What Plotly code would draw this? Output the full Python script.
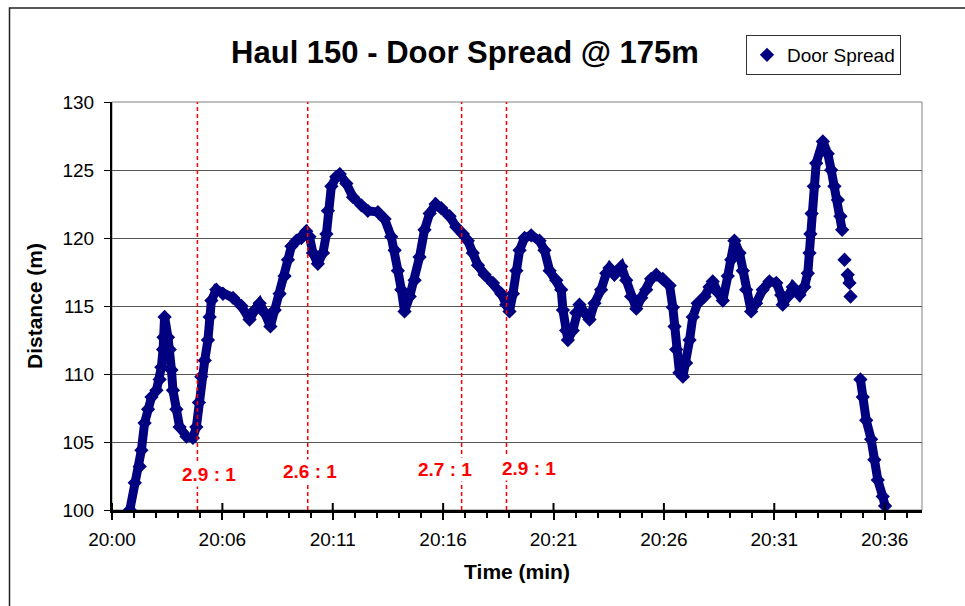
import plotly.graph_objects as go

# Door spread readings: minutes after 20:00 and distance in metres
minutes = [
    0.83, 1.06, 1.29, 1.37, 1.52, 1.68, 1.84, 2.07, 2.22, 2.30, 2.38, 2.40, 2.45, 2.61,
    2.69, 2.77, 2.84, 3.00, 3.15, 3.47, 3.77, 3.93, 4.05, 4.16, 4.32, 4.47, 4.55, 4.63,
    4.86, 5.17, 5.64, 6.03, 6.41, 6.65, 6.88, 7.11, 7.38, 7.58, 7.81, 8.04, 8.20, 8.36,
    8.59, 8.82, 9.05, 9.20, 9.36, 9.59, 9.83, 9.99, 10.06, 10.22, 10.45, 10.61, 10.92,
    11.23, 11.62, 11.92, 12.39, 12.70, 13.01, 13.17, 13.32, 13.48, 13.63, 13.87, 14.10,
    14.33, 14.56, 14.80, 15.08, 15.34, 15.73, 16.04, 16.35, 16.58, 16.81, 17.05, 17.36,
    17.75, 18.14, 18.37, 18.52, 18.68, 18.84, 18.99, 19.22, 19.53, 19.92, 20.15, 20.39,
    20.70, 20.93, 21.01, 21.16, 21.24, 21.47, 21.63, 21.78, 22.02, 22.25, 22.48, 22.79,
    23.03, 23.18, 23.41, 23.73, 23.96, 24.19, 24.43, 24.66, 24.89, 25.12, 25.36, 25.66,
    25.98, 26.13, 26.21, 26.29, 26.44, 26.60, 26.75, 26.91, 27.06, 27.29, 27.61, 27.84,
    27.99, 28.23, 28.46, 28.69, 28.85, 29.00, 29.24, 29.39, 29.55, 29.78, 30.01, 30.32,
    30.63, 30.95, 31.18, 31.25, 31.49, 31.72, 32.03, 32.26, 32.42, 32.50, 32.54, 32.60,
    32.70, 32.81, 33.12, 33.35, 33.51, 33.66, 33.82, 33.94, 34.02, None, 34.13, None,
    34.28, 34.36, None, 34.41, None, 34.87, 34.98, 35.14, 35.37, 35.52, 35.68, 35.91, 36.02,
]
spread = [
    100.0, 102.0, 103.2, 104.4, 106.4, 107.4, 108.3, 108.8, 109.6, 110.5, 111.8, 112.7, 114.2, 112.7,
    111.8, 110.3, 108.8, 107.4, 106.1, 105.4, 105.3, 106.1, 107.9, 109.8, 111.0, 112.5, 114.2, 115.4,
    116.2, 115.9, 115.6, 115.0, 114.0, 114.7, 115.2, 114.5, 113.5, 114.7, 115.9, 117.2, 118.4, 119.4,
    119.8, 120.0, 120.5, 120.1, 118.9, 118.1, 118.9, 120.3, 122.0, 123.8, 124.5, 124.7, 124.0,
    123.0, 122.4, 122.0, 121.9, 121.4, 120.1, 119.1, 117.6, 116.2, 114.6, 115.7, 116.9,
    118.6, 120.6, 121.8, 122.5, 122.2, 121.6, 120.8, 120.3, 119.8, 118.9, 118.0, 117.3,
    116.7, 115.9, 115.1, 114.6, 115.9, 117.6, 119.1, 120.0, 120.2, 119.8, 119.1, 117.6,
    116.9, 116.2, 114.7, 113.2, 112.5, 113.2, 114.5, 115.1, 114.5, 114.0, 115.2, 116.2,
    117.4, 117.8, 117.3, 117.9, 116.9, 115.7, 114.8, 115.6, 116.2, 117.0, 117.3, 117.0,
    116.5, 114.9, 113.5, 111.8, 110.1, 109.8, 110.8, 112.5, 114.2, 115.2, 115.7, 116.4,
    116.8, 116.0, 115.4, 117.2, 118.4, 119.8, 118.9, 117.6, 116.2, 114.6, 115.2, 116.2,
    116.8, 116.7, 115.8, 115.1, 115.7, 116.4, 115.8, 116.4, 117.4, 118.9, 120.3, 121.8,
    123.8, 125.5, 127.1, 126.2, 125.0, 123.8, 122.8, 121.6, 120.6, None, 118.4, None,
    117.3, 116.7, None, 115.7, None, 109.6, 108.3, 106.6, 105.2, 103.7, 102.2, 101.0, 100.3,
]

# Time axis labels (evenly spaced major ticks across 36 minutes)
tick_labels = ["20:00", "20:06", "20:11", "20:16", "20:21", "20:26", "20:31", "20:36"]

# Door-to-wingend ratio markers
ratio_times = [3.98, 9.12, 16.29, 18.38]
ratio_labels = ["2.9 : 1", "2.6 : 1", "2.7 : 1", "2.9 : 1"]

NAVY = "#000080"
RED = "#FF0000"
FONT = "Arial, 'Liberation Sans', sans-serif"

major_step = 36 / (len(tick_labels) - 1)
tick_pos = [i * major_step for i in range(len(tick_labels))]
minor_pos = []
for i in range(len(tick_labels)):
    for k in range(1, 5):
        v = (i + k / 5) * major_step
        if v < 37.7:
            minor_pos.append(v)

fig = go.Figure()
fig.add_trace(go.Scatter(
    x=minutes, y=spread, mode="lines",
    line=dict(color=NAVY, width=9), showlegend=False, hoverinfo="skip",
))
fig.add_trace(go.Scatter(
    x=minutes, y=spread, mode="markers", name="Door Spread",
    marker=dict(symbol="diamond", size=11, color=NAVY),
))

shapes = []
# plot-area frame
shapes.append(dict(type="rect", xref="x domain", yref="y domain", x0=0, x1=1, y0=0, y1=1,
                   line=dict(color="#808080", width=1), layer="below"))
# outer chart frame
shapes.append(dict(type="rect", xref="paper", yref="paper",
                   x0=(9.5 - 112) / 810, x1=(980 - 112) / 810,
                   y0=(510 - 620) / 408, y1=(510 - 8) / 408,
                   line=dict(color="#222222", width=1.5)))
# upper half of the major ticks crossing the time axis
for p in tick_pos:
    shapes.append(dict(type="line", xref="x", yref="y", x0=p, x1=p,
                       ysizemode="pixel", yanchor=100, y0=0, y1=7,
                       line=dict(color="black", width=2)))
# ratio marker lines
for t in ratio_times:
    shapes.append(dict(type="line", xref="x", yref="y", x0=t, x1=t, y0=100, y1=130,
                       line=dict(color=RED, width=1.5, dash="4px,3px"), layer="above"))

label_x = [4.50, 9.21, 15.52, 19.41]
label_y = [102.6, 102.85, 102.95, 103.05]
annotations = [
    dict(x=x, y=y, xref="x", yref="y", text=f"<b>{txt}</b>", showarrow=False,
         font=dict(color=RED, size=19, family=FONT), bgcolor="white", borderpad=1)
    for x, y, txt in zip(label_x, label_y, ratio_labels)
]

fig.update_layout(
    width=965, height=606,
    margin=dict(l=112, r=43, t=102, b=96),
    paper_bgcolor="white", plot_bgcolor="white",
    font=dict(family=FONT, size=19, color="black"),
    title=dict(text="<b>Haul 150 - Door Spread @ 175m</b>", xref="container", yref="container",
               x=465 / 965, y=1 - 52 / 606, xanchor="center", yanchor="middle",
               font=dict(size=31, family=FONT, color="black")),
    legend=dict(x=(746 - 112) / 810, y=(510 - 35) / 408, xanchor="left", yanchor="top",
                bordercolor="#333333", borderwidth=1, bgcolor="white",
                font=dict(size=19, family=FONT), itemwidth=30,
                tracegroupgap=0),
    xaxis=dict(
        range=[0, 37.74], tickmode="array", tickvals=tick_pos, ticktext=tick_labels,
        ticks="outside", ticklen=7, tickwidth=2, tickcolor="black",
        showline=True, linecolor="black", linewidth=3,
        showgrid=False, zeroline=False, ticklabelstandoff=3,
        minor=dict(tickmode="array", tickvals=minor_pos, ticks="outside", ticklen=5,
                   tickwidth=2, tickcolor="black", showgrid=False),
        title=dict(text="<b>Time (min)</b>", font=dict(size=21, family=FONT), standoff=16),
    ),
    yaxis=dict(
        range=[100, 130], tick0=100, dtick=5,
        ticks="outside", ticklen=6, tickwidth=1, tickcolor="black",
        showline=True, linecolor="black", linewidth=2,
        showgrid=True, gridcolor="#555555", gridwidth=1, zeroline=False,
        ticklabelstandoff=6,
        title=dict(text="<b>Distance (m)</b>", font=dict(size=21, family=FONT), standoff=14),
    ),
    shapes=shapes,
    annotations=annotations,
)

fig.write_html("out.html")
